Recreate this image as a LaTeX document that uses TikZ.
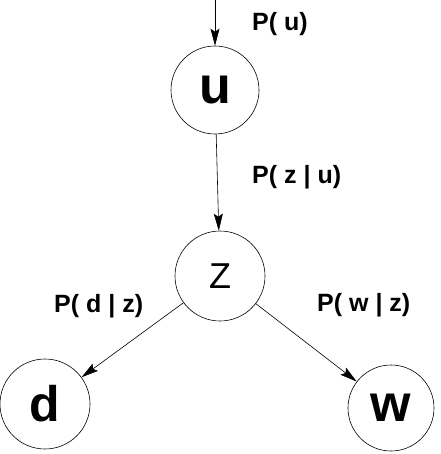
\documentclass[tikz,border=0pt]{standalone}
\usepackage{fontspec}
\setmainfont{Liberation Sans}
\usetikzlibrary{arrows.meta}
\tikzset{
  var/.style={draw, circle, line width=0.6pt, inner sep=0pt, minimum size=88pt},
  lbl/.style={anchor=base west, inner sep=0pt, font=\fontsize{25}{27}\selectfont\bfseries},
  arr/.style={line width=0.6pt, -{Stealth[length=17pt,width=9pt,inset=3pt]}}
}
\begin{document}
\begin{tikzpicture}[x=1pt,y=-1pt]
\useasboundingbox (0,0) rectangle (440,454);
\node[var, font=\fontsize{52}{54}\selectfont\bfseries] (u) at (215,90) {u};
\node[var, minimum size=90pt, font=\fontsize{36}{38}\selectfont] (Z) at (220,276) {Z};
\node[var, minimum size=90pt, font=\fontsize{50}{52}\selectfont\bfseries] (d) at (45,404) {d};
\node[var, minimum size=86pt, font=\fontsize{52}{54}\selectfont\bfseries] (w) at (391,408) {w};
\coordinate (top) at (215,0);
\draw[arr] (top) -- (u);
\draw[arr] (u) -- (Z);
\draw[arr] (Z) -- (d);
\draw[arr] (Z) -- (w);
\node[lbl] (pu) at (252,31) {P( u)};
\node[lbl] (pzu) at (252,183) {P( z | u)};
\node[lbl] (pdz) at (54,312) {P( d | z)};
\node[lbl] (pwz) at (317,311) {P( w | z)};
\end{tikzpicture}
\end{document}
